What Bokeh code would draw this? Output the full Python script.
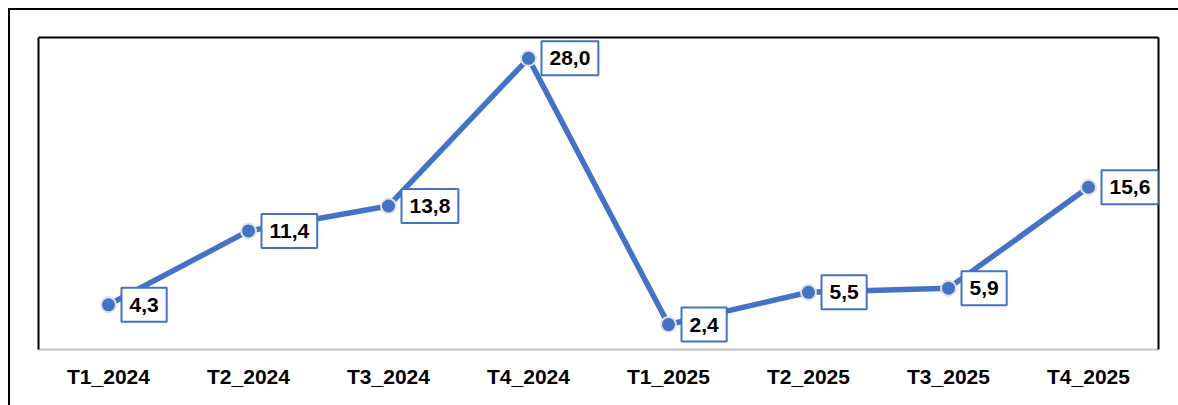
from bokeh.plotting import figure
from bokeh.models import Label, CategoricalAxis, LinearAxis, ColumnDataSource, Range1d
from bokeh.embed import file_html
from bokeh.resources import INLINE

categories = ["T1_2024", "T2_2024", "T3_2024", "T4_2024", "T1_2025", "T2_2025", "T3_2025", "T4_2025"]
values = [4.3, 11.4, 13.8, 28.0, 2.4, 5.5, 5.9, 15.6]
labels = ["4,3", "11,4", "13,8", "28,0", "2,4", "5,5", "5,9", "15,6"]

BLUE = "#4472C4"
FONT = "Liberation Sans"

p = figure(x_range=categories, y_range=Range1d(0, 30),
           frame_width=1120, frame_height=312,
           min_border_left=28, min_border_top=27, min_border_right=20, min_border_bottom=56,
           output_backend="svg", toolbar_location=None, x_axis_location=None, y_axis_location=None)
p.styles = {"border-left": "2px solid black", "border-top": "2px solid black",
            "margin-left": "8px", "margin-top": "8px"}
p.outline_line_color = None
p.xgrid.grid_line_color = None
p.ygrid.grid_line_color = None
p.background_fill_color = "white"
p.border_fill_color = "white"

# bottom category axis
xa = CategoricalAxis()
xa.axis_line_color = "#BFBFBF"
xa.axis_line_width = 2
xa.major_tick_line_color = None
xa.minor_tick_line_color = None
xa.major_tick_out = 0
xa.major_tick_in = 0
xa.major_label_standoff = 15
xa.major_label_text_font = FONT
xa.major_label_text_font_style = "bold"
xa.major_label_text_font_size = "21px"
xa.major_label_text_color = "black"
p.add_layout(xa, "below")

def frame_axis(ax):
    ax.axis_line_color = "black"
    ax.axis_line_width = 2
    ax.major_tick_line_color = None
    ax.minor_tick_line_color = None
    ax.major_tick_out = 0
    ax.major_tick_in = 0
    ax.major_label_standoff = 0
    ax.major_label_text_font_size = "0px"
    ax.major_label_text_color = None
    return ax

p.add_layout(frame_axis(LinearAxis()), "left")
p.add_layout(frame_axis(LinearAxis()), "right")
p.add_layout(frame_axis(CategoricalAxis()), "above")

src = ColumnDataSource(dict(cat=categories, val=values, lbl=labels))
p.line("cat", "val", source=src, line_color=BLUE, line_width=5.5)
p.scatter("cat", "val", source=src, size=15, fill_color=BLUE, line_color="#E2E2E2", line_width=2)

# categorical factor i sits at synthetic coordinate i + 0.5
for i, (v, t) in enumerate(zip(values, labels)):
    p.add_layout(Label(x=i + 0.5, y=v, text=t, x_offset=13, y_offset=0,
                       text_align="left", text_baseline="middle",
                       text_font=FONT, text_font_style="bold", text_font_size="21px",
                       text_color="black",
                       background_fill_color="white", border_line_color=BLUE, border_line_width=2,
                       padding=dict(left=8, right=8, top=10, bottom=10)))

open("out.html", "w").write(file_html(p, INLINE))
